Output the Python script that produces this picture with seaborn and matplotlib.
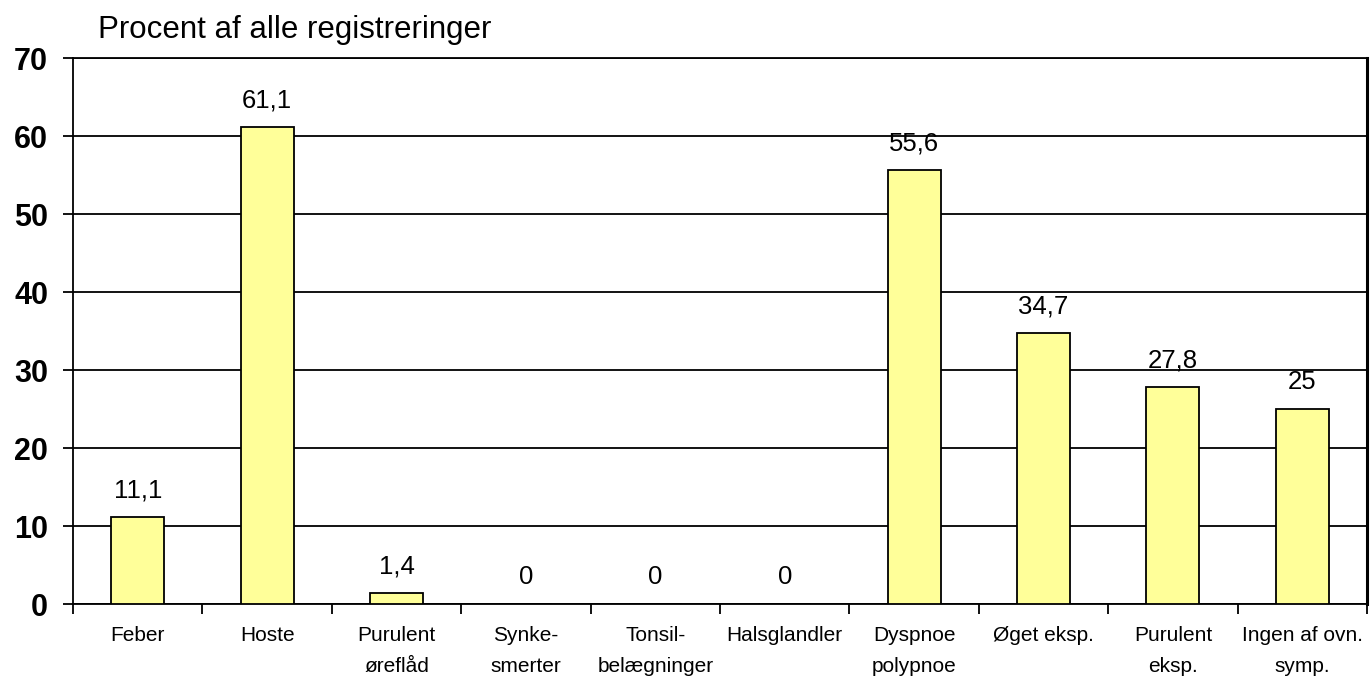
import matplotlib
matplotlib.use("Agg")
import matplotlib.pyplot as plt
from matplotlib.ticker import FixedLocator
import seaborn as sns
import pandas as pd

categories = ["Feber", "Hoste", "Purulent\nøreflåd", "Synke-\nsmerter", "Tonsil-\nbelægninger",
              "Halsglandler", "Dyspnoe\npolypnoe", "Øget eksp.", "Purulent\neksp.", "Ingen af ovn.\nsymp."]
values = [11.1, 61.1, 1.4, 0, 0, 0, 55.6, 34.7, 27.8, 25]
value_labels = ["11,1", "61,1", "1,4", "0", "0", "0", "55,6", "34,7", "27,8", "25"]
yticks = [0, 10, 20, 30, 40, 50, 60, 70]

sns.set_theme(style="white")
plt.rcParams["font.family"] = ["Liberation Sans", "DejaVu Sans"]
plt.rcParams["text.color"] = "black"
plt.rcParams["xtick.color"] = "black"
plt.rcParams["ytick.color"] = "black"

df = pd.DataFrame({"cat": categories, "val": values})

fig = plt.figure(figsize=(13.7, 6.77), dpi=100)
ax = fig.add_axes([0.0533, 0.1078, 0.9445, 0.8065])

sns.barplot(data=df, x="cat", y="val", ax=ax, color="#FFFF99", saturation=1,
            edgecolor="black", linewidth=1.3, width=0.41, zorder=3)

ax.set_xlim(-0.5, len(categories) - 0.5)
ax.set_ylim(0, 70)
ax.set_yticks(yticks)
ax.set_yticklabels([str(t) for t in yticks], fontsize=22, fontweight="bold")
ax.yaxis.grid(True, color="black", linewidth=1.3, zorder=0)
ax.xaxis.grid(False)
ax.tick_params(axis="y", length=7, width=1.3, direction="out", left=True, pad=11)
ax.tick_params(axis="x", which="major", length=0, labelsize=15, pad=16)
ax.xaxis.set_minor_locator(FixedLocator([i - 0.5 for i in range(len(categories) + 1)]))
ax.tick_params(axis="x", which="minor", length=7, width=1.3, direction="out", bottom=True)
for lbl in ax.get_xticklabels():
    lbl.set_linespacing(1.8)

for s in ["left", "right", "bottom", "top"]:
    ax.spines[s].set_visible(True)
    ax.spines[s].set_color("black")
    ax.spines[s].set_linewidth(1.3)
ax.spines["right"].set_linewidth(2.2)

ax.set_xlabel("")
ax.set_ylabel("")

for i, (v, t) in enumerate(zip(values, value_labels)):
    ax.annotate(t, xy=(i, v), xytext=(0, 14.4), textcoords="offset points",
                ha="center", va="baseline", fontsize=18.5)

fig.text(0.0715, 0.9439, "Procent af alle registreringer", fontsize=22.5, ha="left", va="baseline")

fig.savefig("out.png", dpi=100, facecolor="white")
